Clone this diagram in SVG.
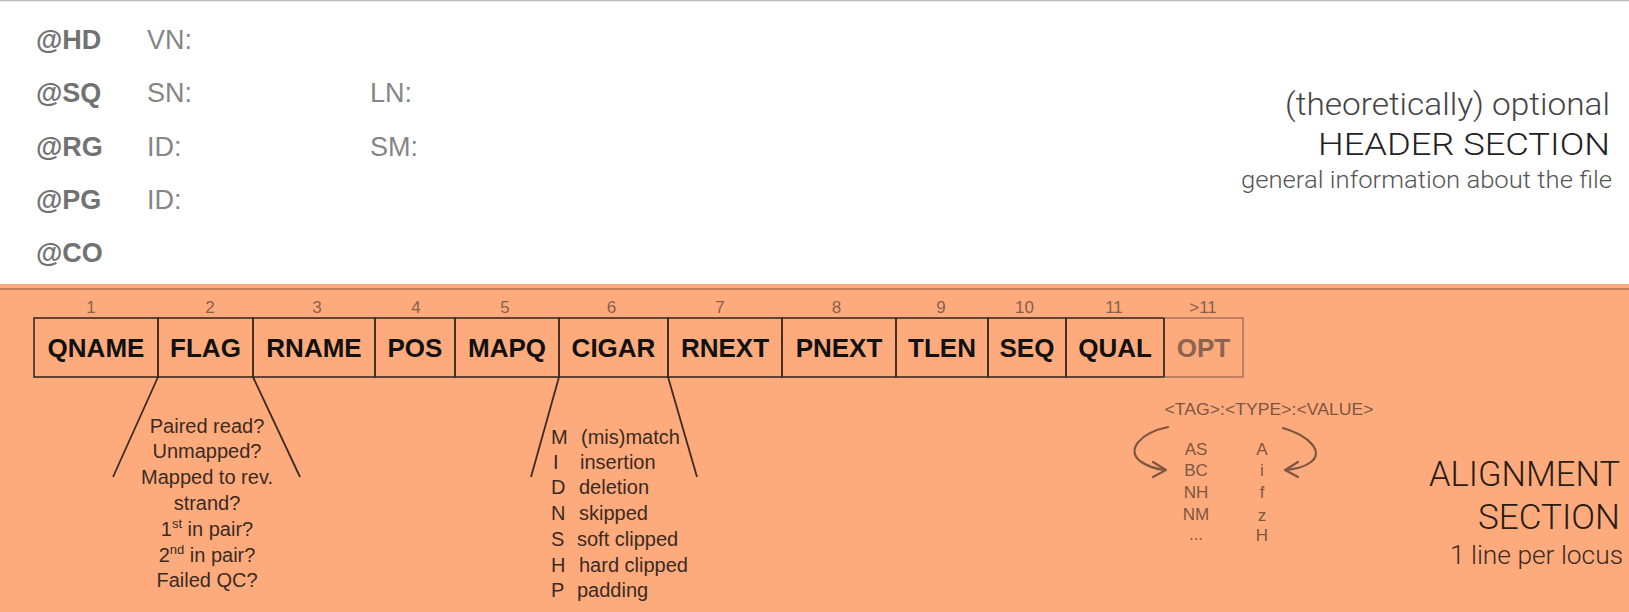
<svg xmlns="http://www.w3.org/2000/svg" width="1629" height="612" viewBox="0 0 1629 612">
<style>
.hk{font-family:"Liberation Sans",Arial,sans-serif;font-weight:bold;font-size:27px;fill:#727272}
.hv{font-family:"Liberation Sans",Arial,sans-serif;font-size:27px;fill:#858585}
.lt{font-family:Roboto,"Liberation Sans",Arial,sans-serif;font-weight:300;text-anchor:end}
.box{fill:none;stroke:#3d2b20;stroke-width:1.6}
.bt{font-family:"Liberation Sans",Arial,sans-serif;font-weight:bold;font-size:26px;fill:#111;text-anchor:middle}
.num{font-family:"Liberation Sans",Arial,sans-serif;font-size:17px;fill:#8a6048;text-anchor:middle}
.ft{font-family:"Liberation Sans",Arial,sans-serif;font-size:20px;fill:#3b2a22}
.tg{font-family:"Liberation Sans",Arial,sans-serif;font-size:17px;fill:#7d5640;text-anchor:middle}
.fan{stroke:#3d2b20;stroke-width:1.8;fill:none}
.arr{stroke:#7d5640;stroke-width:2.2;fill:none;stroke-linecap:round;stroke-linejoin:round}
</style>
<rect x="0" y="0" width="1629" height="612" fill="#ffffff"/>
<line x1="0" y1="0.5" x2="1629" y2="0.5" stroke="#bbbbbb" stroke-width="1.5"/>
<g id="header">
<text class="hk" x="36" y="49">@HD</text>
<text class="hk" x="36" y="102">@SQ</text>
<text class="hk" x="36" y="156">@RG</text>
<text class="hk" x="36" y="209">@PG</text>
<text class="hk" x="36" y="262">@CO</text>
<text class="hv" x="147" y="49">VN:</text>
<text class="hv" x="147" y="102">SN:</text>
<text class="hv" x="147" y="156">ID:</text>
<text class="hv" x="147" y="209">ID:</text>
<text class="hv" x="370" y="102">LN:</text>
<text class="hv" x="370" y="156">SM:</text>
<text class="lt" x="1610" y="115" font-size="31" fill="#444" textLength="325" lengthAdjust="spacingAndGlyphs">(theoretically) optional</text>
<text class="lt" x="1610" y="155" font-size="31" fill="#222" textLength="292" lengthAdjust="spacingAndGlyphs">HEADER SECTION</text>
<text class="lt" x="1612" y="188" font-size="23" fill="#555" textLength="371" lengthAdjust="spacingAndGlyphs">general information about the file</text>
</g>
<rect x="0" y="284" width="1629" height="328" fill="#fdab7d"/>
<line x1="0" y1="289" x2="1629" y2="289" stroke="#b07050" stroke-width="1.5"/>
<g id="n-qname"><rect class="box" x="34" y="318" width="124" height="59"/><text class="num" x="91" y="313">1</text><text class="bt" x="96" y="357">QNAME</text></g>
<g id="n-flag"><rect class="box" x="158" y="318" width="95" height="59"/><text class="num" x="210" y="313">2</text><text class="bt" x="205.5" y="357">FLAG</text></g>
<g id="n-rname"><rect class="box" x="253" y="318" width="122" height="59"/><text class="num" x="317" y="313">3</text><text class="bt" x="314" y="357">RNAME</text></g>
<g id="n-pos"><rect class="box" x="375" y="318" width="80" height="59"/><text class="num" x="416" y="313">4</text><text class="bt" x="415" y="357">POS</text></g>
<g id="n-mapq"><rect class="box" x="455" y="318" width="104" height="59"/><text class="num" x="505" y="313">5</text><text class="bt" x="507" y="357">MAPQ</text></g>
<g id="n-cigar"><rect class="box" x="559" y="318" width="109" height="59"/><text class="num" x="611.5" y="313">6</text><text class="bt" x="613.5" y="357">CIGAR</text></g>
<g id="n-rnext"><rect class="box" x="668" y="318" width="114" height="59"/><text class="num" x="720" y="313">7</text><text class="bt" x="725" y="357">RNEXT</text></g>
<g id="n-pnext"><rect class="box" x="782" y="318" width="114" height="59"/><text class="num" x="836.5" y="313">8</text><text class="bt" x="839" y="357">PNEXT</text></g>
<g id="n-tlen"><rect class="box" x="896" y="318" width="92" height="59"/><text class="num" x="941" y="313">9</text><text class="bt" x="942" y="357">TLEN</text></g>
<g id="n-seq"><rect class="box" x="988" y="318" width="78" height="59"/><text class="num" x="1024.5" y="313">10</text><text class="bt" x="1027" y="357">SEQ</text></g>
<g id="n-qual"><rect class="box" x="1066" y="318" width="98" height="59"/><text class="num" x="1114" y="313">11</text><text class="bt" x="1115" y="357">QUAL</text></g>
<g id="n-opt"><rect x="1164" y="318" width="79" height="59" fill="none" stroke="#a0705a" stroke-width="1.4"/><line x1="1164" y1="318" x2="1164" y2="377" class="box"/><text class="num" x="1203" y="313">&gt;11</text><text class="bt" x="1203.5" y="357" style="fill:#8a6450">OPT</text></g>
<g id="connectors">
<line class="fan" x1="158" y1="377" x2="113" y2="477"/>
<line class="fan" x1="253" y1="377" x2="300" y2="477"/>
<line class="fan" x1="559" y1="377" x2="531" y2="477"/>
<line class="fan" x1="668" y1="377" x2="697" y2="477"/>
<path class="arr" d="M1168,427 C1140,433 1126,450 1140,461 C1148,467 1157,469 1165,470"/>
<polyline class="arr" points="1153,462 1166,470 1153,477"/>
<path class="arr" d="M1283,428 C1310,436 1324,452 1311,462 C1303,468 1294,469 1286,470"/>
<polyline class="arr" points="1298,462 1285,470 1298,477"/>
</g>
<g id="flag-info" class="ft" text-anchor="middle">
<text x="207" y="433">Paired read?</text>
<text x="207" y="458">Unmapped?</text>
<text x="207" y="484">Mapped to rev.</text>
<text x="207" y="510">strand?</text>
<text x="207" y="536">1<tspan font-size="13" dy="-8">st</tspan><tspan dy="8"> in pair?</tspan></text>
<text x="207" y="562">2<tspan font-size="13" dy="-8">nd</tspan><tspan dy="8"> in pair?</tspan></text>
<text x="207" y="587">Failed QC?</text>
</g>
<g id="cigar-info" class="ft">
<text x="551" y="444">M</text><text x="581" y="444">(mis)match</text>
<text x="553" y="469">I</text><text x="580" y="469">insertion</text>
<text x="551" y="494">D</text><text x="579" y="494">deletion</text>
<text x="551" y="520">N</text><text x="579" y="520">skipped</text>
<text x="551" y="546">S</text><text x="577" y="546">soft clipped</text>
<text x="551" y="572">H</text><text x="579" y="572">hard clipped</text>
<text x="551" y="597">P</text><text x="577" y="597">padding</text>
</g>
<g id="opt-info" class="tg">
<text x="1269" y="415" textLength="209" lengthAdjust="spacingAndGlyphs">&lt;TAG&gt;:&lt;TYPE&gt;:&lt;VALUE&gt;</text>
<text x="1196" y="455">AS</text>
<text x="1196" y="476">BC</text>
<text x="1196" y="498">NH</text>
<text x="1196" y="520">NM</text>
<text x="1196" y="540">...</text>
<text x="1262" y="455">A</text>
<text x="1262" y="476">i</text>
<text x="1262" y="498">f</text>
<text x="1262" y="521">z</text>
<text x="1262" y="541">H</text>
</g>
<g id="alignment-label">
<text class="lt" x="1620" y="486" font-size="35" fill="#2a1c14" textLength="191" lengthAdjust="spacingAndGlyphs">ALIGNMENT</text>
<text class="lt" x="1620" y="529" font-size="35" fill="#2a1c14" textLength="142" lengthAdjust="spacingAndGlyphs">SECTION</text>
<text class="lt" x="1623" y="564" font-size="25" fill="#3b2a22" textLength="173" lengthAdjust="spacingAndGlyphs">1 line per locus</text>
</g>
</svg>
